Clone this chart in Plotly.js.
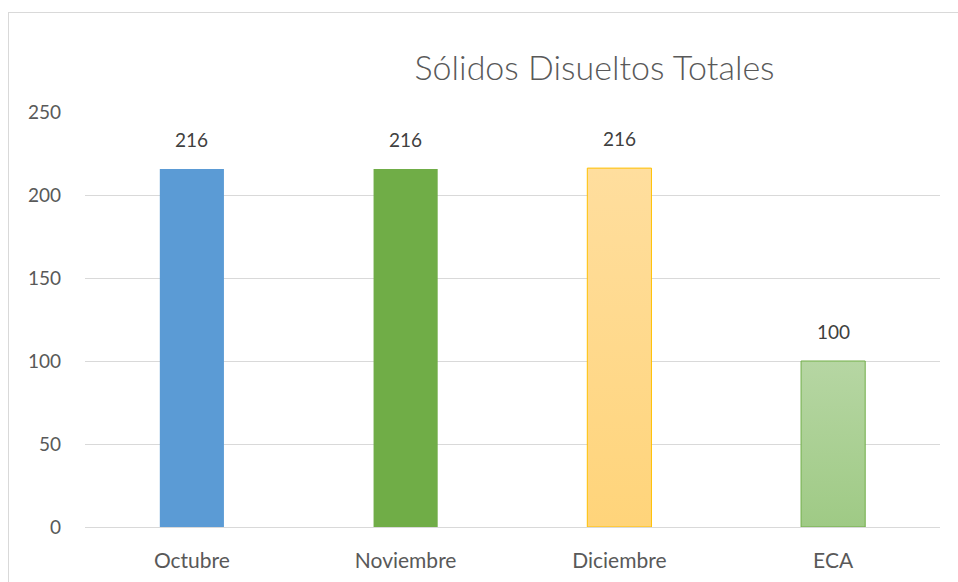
<!DOCTYPE html>
<html>
<head>
<meta charset="utf-8">
<script src="https://cdn.plot.ly/plotly-3.0.1.min.js"></script>
<style>
html,body{margin:0;padding:0;background:#fff;overflow:hidden;}
#wrap{position:absolute;left:0;top:0;width:958px;height:582px;}
#frame{position:absolute;left:8px;top:12px;width:1000px;height:700px;border:1px solid #d9d9d9;box-sizing:border-box;pointer-events:none;}
#chart{position:absolute;left:0;top:0;width:958px;height:582px;}
</style>
</head>
<body>
<div id="wrap"><div id="chart"></div><div id="frame"></div></div>
<script>
const categories = ["Octubre", "Noviembre", "Diciembre", "ECA"];
const values = [215.6, 215.6, 216.2, 100];
const barColors = ["#5B9BD5", "#70AD47", "#FFD98D", "#A8CF90"];
const lineColors = ["#5B9BD5", "#70AD47", "#FFC000", "#70AD47"];
const yTicks = [0, 50, 100, 150, 200, 250];

const font = "Lato, 'Open Sans', sans-serif";

const trace = {
  type: "bar",
  x: categories,
  y: values,
  width: 0.3,
  marker: {color: barColors, line: {color: lineColors, width: [0, 0, 1, 1]}},
  hoverinfo: "none"
};

const annotations = categories.map((c, i) => ({
  x: c, y: values[i], xref: "x", yref: "y",
  text: values[i].toFixed(0), showarrow: false,
  yanchor: "bottom", yshift: 16,
  font: {family: font, size: 19, weight: 400, color: "#404040"}
}));

const layout = {
  width: 958, height: 582,
  margin: {l: 85, r: 18, t: 112, b: 55},
  paper_bgcolor: "rgba(0,0,0,0)",
  plot_bgcolor: "#fff",
  showlegend: false,
  bargap: 0.7,
  title: {
    text: "Sólidos Disueltos Totales",
    x: 0.596, xref: "paper", xanchor: "center",
    y: 1 - 68/582, yref: "container", yanchor: "middle",
    font: {family: font, size: 34, weight: 300, color: "#595959"}
  },
  xaxis: {
    type: "category",
    showgrid: false,
    showline: true, linecolor: "#d9d9d9", linewidth: 1,
    ticks: "", ticklabelstandoff: 15,
    tickfont: {family: font, size: 21, weight: 400, color: "#595959"}
  },
  yaxis: {
    range: [0, 250],
    tickvals: yTicks,
    ticktext: yTicks.map(String),
    showgrid: true, gridcolor: "#d9d9d9", gridwidth: 1,
    zeroline: false, showline: false,
    ticks: "", ticklabelstandoff: 23,
    tickfont: {family: font, size: 19, weight: 400, color: "#595959"}
  },
  annotations: annotations
};

Plotly.newPlot("chart", [trace], layout, {displayModeBar: false, staticPlot: true}).then(gd => {
  const svg = gd.querySelector("svg.main-svg");
  const ns = "http://www.w3.org/2000/svg";
  let defs = svg.querySelector("defs");
  if (!defs) { defs = document.createElementNS(ns, "defs"); svg.insertBefore(defs, svg.firstChild); }
  function grad(id, top, bottom) {
    const g = document.createElementNS(ns, "linearGradient");
    g.setAttribute("id", id); g.setAttribute("x1", "0"); g.setAttribute("y1", "0");
    g.setAttribute("x2", "0"); g.setAttribute("y2", "1");
    [[0, top], [1, bottom]].forEach(([o, c]) => {
      const s = document.createElementNS(ns, "stop");
      s.setAttribute("offset", o); s.setAttribute("stop-color", c);
      g.appendChild(s);
    });
    defs.appendChild(g);
  }
  grad("gDic", "#FFDE9E", "#FFD47A");
  grad("gEca", "#B6D6A3", "#9FCA85");
  const paths = gd.querySelectorAll(".barlayer .point path");
  if (paths[2]) paths[2].style.fill = "url(#gDic)";
  if (paths[3]) paths[3].style.fill = "url(#gEca)";
});
</script>
</body>
</html>
